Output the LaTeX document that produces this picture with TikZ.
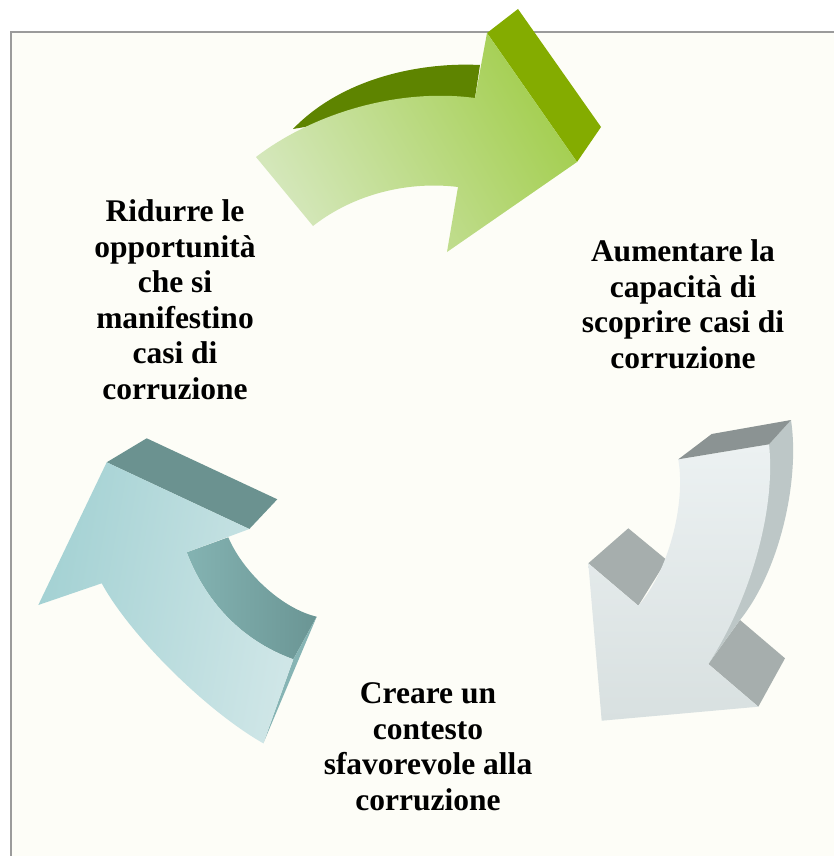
\documentclass[tikz,border=0pt]{standalone}
\usepackage{fontspec}
\setmainfont{Liberation Serif}
\definecolor{panelbg}{RGB}{253,253,247}
\definecolor{panelline}{RGB}{155,155,155}
\definecolor{grlight}{RGB}{212,231,186}
\definecolor{grmid}{RGB}{163,206,78}
\definecolor{grdark}{RGB}{94,132,0}
\definecolor{grhead}{RGB}{132,172,0}
\definecolor{gytop}{RGB}{236,241,242}
\definecolor{gybot}{RGB}{216,224,224}
\definecolor{gycap}{RGB}{139,147,147}
\definecolor{gyside}{RGB}{189,199,199}
\definecolor{gysq}{RGB}{166,174,173}
\definecolor{tlleft}{RGB}{163,209,211}
\definecolor{tlright}{RGB}{207,230,231}
\definecolor{tlcap}{RGB}{107,146,144}
\definecolor{tlsideA}{RGB}{132,179,178}
\definecolor{tlsideB}{RGB}{106,149,148}
\definecolor{tltail}{RGB}{134,180,180}
\tikzset{
  lbl/.style={align=center, inner sep=0pt, anchor=base, font=\fontsize{31.5}{35.5}\selectfont\bfseries},
  flat/.style={draw=none}
}
\begin{document}
\begin{tikzpicture}[x=1pt,y=-1pt]
\useasboundingbox (0,0) rectangle (834,856);
\fill[white] (0,0) rectangle (834,856);
% panel
\fill[panelbg] (11,32) rectangle (840,862);
\draw[panelline, line width=2pt] (11,862) -- (11,32) -- (840,32);

% ---------- green arrow ----------
\fill[grdark] (293,129) .. controls (342,78) and (420,62) .. (480,65) -- (475,98) -- (293,129) -- cycle;
\fill[grhead] (487,33) -- (518,9) -- (601,127) -- (577,162) -- cycle;
\shade[left color=grlight, right color=grmid, shading angle=120]
  (256,157) .. controls (315,112) and (400,88) .. (475,98) -- (487,33) -- (577,162)
  -- (447,252) -- (458,187) .. controls (410,181) and (355,193) .. (313,226) -- cycle;

% ---------- gray arrow ----------
\fill[gysq] (588.3,563.3) -- (628.3,528.3) -- (666.7,560) -- (638.3,605.7) -- cycle;
\fill[gysq] (740,620) -- (785,658.3) -- (758.3,706.7) -- (708.3,664) -- cycle;
\fill[gyside] (769,444.3) -- (791,420) .. controls (800,480) and (780,570) .. (740,620)
  -- (708.3,664) -- (700,500) -- cycle;
\shade[top color=gytop, bottom color=gybot]
  (678.3,459.3) -- (769,444.3) .. controls (776,510) and (750,600) .. (708.3,664)
  -- (758.3,706.7) -- (601.7,720.7) -- (588.3,563.3) -- (638.3,605.7)
  .. controls (668,572) and (686,505) .. (678.3,459.3) -- cycle;
\fill[gycap] (678.3,459.3) -- (711.7,434) -- (791,420) -- (769,444.3) -- cycle;

% ---------- teal arrow ----------
\fill[tlcap] (106.7,462.3) -- (146.7,438.3) -- (277.3,499.3) -- (249.3,529) -- cycle;
\shade[left color=tlsideA, right color=tlsideB]
  (228.3,537.3) .. controls (242,570) and (280,608) .. (316.7,616.7) -- (293.3,659.3)
  .. controls (240,640) and (205,600) .. (186.7,552.3) -- cycle;
\fill[tltail] (293.3,659.3) -- (316.7,616.7) -- (263.3,743.3) -- cycle;
\shade[left color=tlleft, right color=tlright, shading angle=80]
  (106.7,462.3) -- (249.3,529) -- (186.7,552.3) .. controls (205,600) and (240,640) .. (293.3,659.3)
  -- (263.3,743.3) .. controls (205,710) and (130,635) .. (101.7,583.3) -- (38.3,605) -- cycle;

% ---------- labels (anchor at last baseline) ----------
\node[lbl] (ridurre) at (175,399) {Ridurre le\\opportunità\\che si\\manifestino\\casi di\\corruzione};
\node[lbl] (aumentare) at (683,368) {Aumentare la\\capacità di\\scoprire casi di\\corruzione};
\node[lbl] (creare) at (428,810) {Creare un\\contesto\\sfavorevole alla\\corruzione};
\end{tikzpicture}
\end{document}
